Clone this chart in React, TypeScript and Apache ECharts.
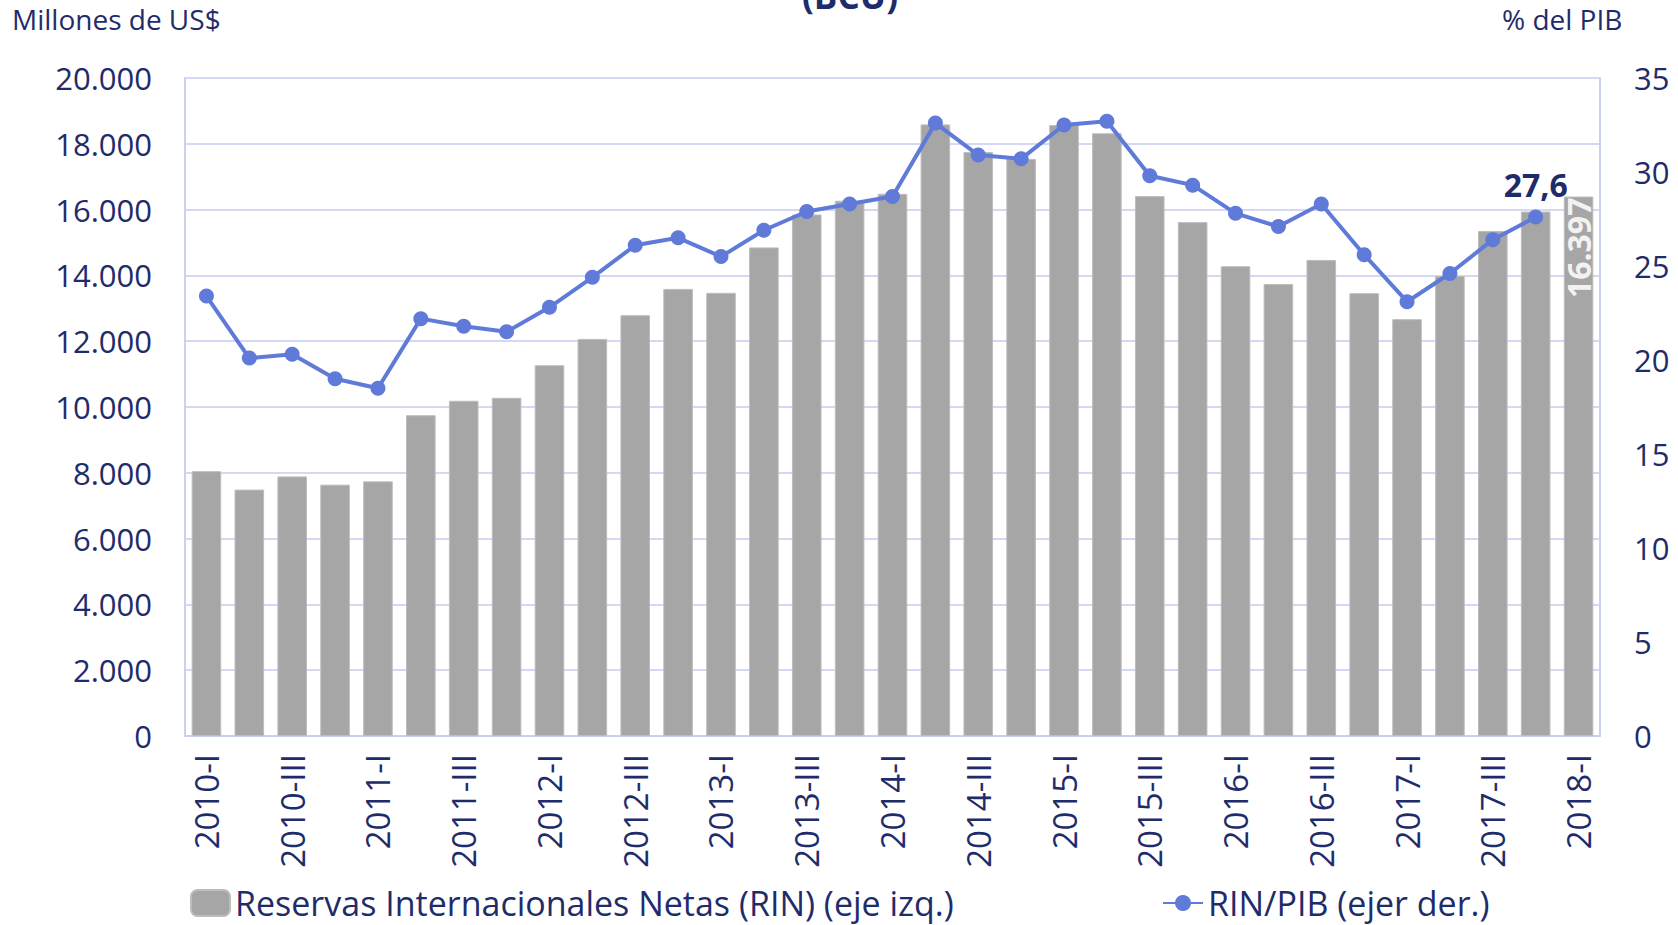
import React, { useEffect, useRef } from "react";
import * as echarts from "echarts";

const categories = [
  "2010-I","2010-II","2010-III","2010-IV",
  "2011-I","2011-II","2011-III","2011-IV",
  "2012-I","2012-II","2012-III","2012-IV",
  "2013-I","2013-II","2013-III","2013-IV",
  "2014-I","2014-II","2014-III","2014-IV",
  "2015-I","2015-II","2015-III","2015-IV",
  "2016-I","2016-II","2016-III","2016-IV",
  "2017-I","2017-II","2017-III","2017-IV",
  "2018-I",
];

const rinValues = [
  8050, 7490, 7890, 7640,
  7740, 9750, 10190, 10280,
  11270, 12070, 12790, 13590,
  13470, 14850, 15850, 16270,
  16480, 18590, 17750, 17540,
  18570, 18320, 16410, 15620,
  14280, 13740, 14470, 13460,
  12670, 13980, 15350, 15940,
  16397,
];

const rinPibValues: (number | null)[] = [
  23.4, 20.1, 20.3, 19.0,
  18.5, 22.2, 21.8, 21.5,
  22.8, 24.4, 26.1, 26.5,
  25.5, 26.9, 27.9, 28.3,
  28.7, 32.6, 30.9, 30.7,
  32.5, 32.7, 29.8, 29.3,
  27.8, 27.1, 28.3, 25.6,
  23.1, 24.6, 26.4, 27.6,
  null,
];

const leftTicks = { min: 0, max: 20000, interval: 2000 };
const rightTicks = { min: 0, max: 35, interval: 5 };

const seriesNames = [
  "Reservas Internacionales Netas (RIN) (eje izq.)",
  "RIN/PIB (ejer der.)",
];

const NAVY = "#1F2C6B";
const FONT = "'Open Sans', 'Noto Sans', sans-serif";

function fmtThousands(v: number) {
  return String(Math.round(v)).replace(/\B(?=(\d{3})+(?!\d))/g, ".");
}

export default function App() {
  const ref = useRef<HTMLDivElement>(null);
  useEffect(() => {
    if (!ref.current) return;
    const chart = echarts.init(ref.current, null, { renderer: "svg" });
    const lastBar = rinValues.length - 1;
    const lastPt = 31;
    chart.setOption({
      animation: false,
      textStyle: { fontFamily: FONT, color: NAVY },
      grid: { left: 185, right: 78, top: 78, bottom: 189, containLabel: false },
      graphic: [
        {
          type: "text", left: 12, top: 5,
          style: { text: "Millones de US$", font: `28px ${FONT}`, fill: NAVY },
        },
        {
          type: "text", left: 1502, top: 5,
          style: { text: "% del PIB", font: `28px ${FONT}`, fill: NAVY },
        },
        {
          type: "text", x: 850, y: -5,
          style: {
            text: "(BCU)", font: `bold 35px ${FONT}`, fill: NAVY,
            textAlign: "center", textVerticalAlign: "middle",
          },
        },
      ],
      legend: [
        {
          data: [seriesNames[0]],
          left: 190, top: 886, padding: 0,
          itemWidth: 39, itemHeight: 26, itemGap: 6,
          textStyle: { fontSize: 34, color: NAVY, fontFamily: FONT },
        },
        {
          data: [seriesNames[1]],
          left: 1162, top: 886, padding: 0,
          itemWidth: 40, itemHeight: 20,
          textStyle: { fontSize: 34, color: NAVY, fontFamily: FONT },
        },
      ],
      xAxis: {
        type: "category",
        data: categories,
        axisLine: { show: true, lineStyle: { color: "#C9D0F2", width: 2 } },
        axisTick: { show: false },
        axisLabel: {
          interval: 1, rotate: 90, margin: 18,
          fontSize: 33, color: NAVY, fontFamily: FONT,
        },
      },
      yAxis: [
        {
          type: "value", ...leftTicks,
          axisLine: { show: true, lineStyle: { color: "#C9D0F2", width: 2 } },
          axisTick: { show: false },
          splitLine: { show: true, lineStyle: { color: "#D3D9F5", width: 2 } },
          axisLabel: {
            margin: 33, fontSize: 31, color: NAVY, fontFamily: FONT,
            formatter: (v: number) => fmtThousands(v),
          },
        },
        {
          type: "value", ...rightTicks,
          position: "right",
          axisLine: { show: true, lineStyle: { color: "#C9D0F2", width: 2 } },
          axisTick: { show: false },
          splitLine: { show: false },
          axisLabel: { margin: 34, fontSize: 31, color: NAVY, fontFamily: FONT },
        },
      ],
      series: [
        {
          name: seriesNames[0],
          type: "bar",
          yAxisIndex: 0,
          barCategoryGap: "31%",
          itemStyle: { color: "#A6A6A6", borderColor: "#BDBDBD", borderWidth: 1 },
          data: rinValues.map((v, i) =>
            i === lastBar
              ? {
                  value: v,
                  label: {
                    show: true, position: "insideTop", rotate: 90,
                    align: "right", verticalAlign: "middle", offset: [4, 0],
                    formatter: (p: any) => fmtThousands(p.value),
                    fontSize: 32, fontWeight: "bold", color: "#F2F2F2", fontFamily: FONT,
                  },
                }
              : v
          ),
        },
        {
          name: seriesNames[1],
          type: "line",
          yAxisIndex: 1,
          symbol: "circle",
          symbolSize: 15,
          lineStyle: { color: "#5F7AD9", width: 4 },
          itemStyle: { color: "#5F7AD9" },
          data: rinPibValues.map((v, i) =>
            i === lastPt
              ? {
                  value: v,
                  label: {
                    show: true, position: "top", distance: 9,
                    formatter: (p: any) => String(p.value).replace(".", ","),
                    fontSize: 32, fontWeight: "bold", color: NAVY, fontFamily: FONT,
                  },
                }
              : v
          ),
        },
      ],
    });
    return () => chart.dispose();
  }, []);
  return (
    <div
      ref={ref}
      style={{ position: "fixed", left: 0, top: 0, width: 1678, height: 925, background: "#fff" }}
    />
  );
}
